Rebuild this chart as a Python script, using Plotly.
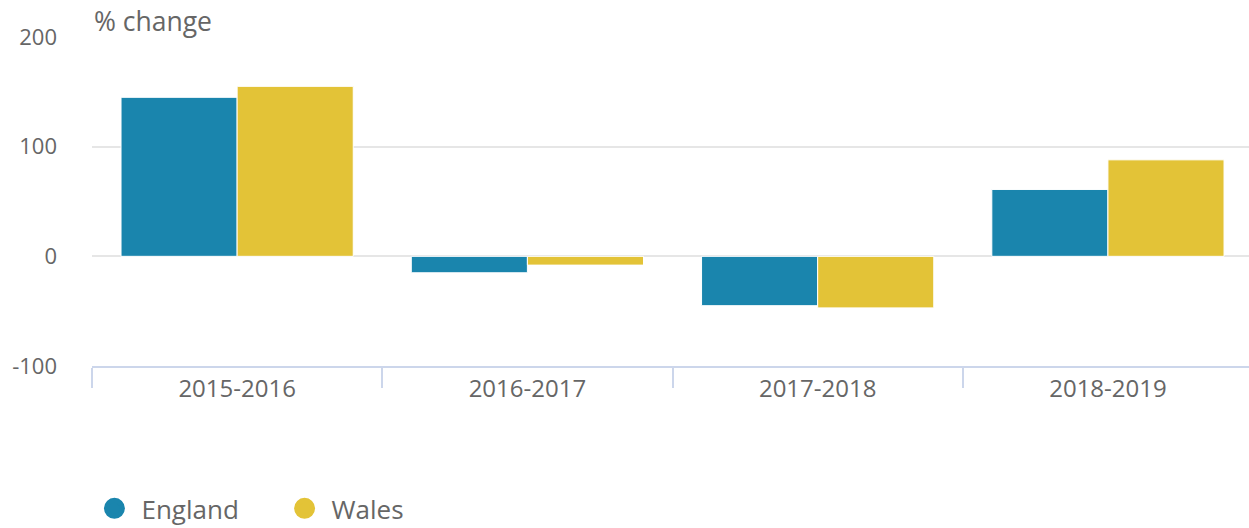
import plotly.graph_objects as go

categories = ["2015-2016", "2016-2017", "2017-2018", "2018-2019"]
england = [145, -15, -45, 61]
wales = [155, -8, -47, 88]
y_ticks = [-100, 0, 100, 200]
y_tick_labels = ["-100", "0", "100", "200"]

ENG_COL = "#1a85ad"
WAL_COL = "#e3c337"
FONT = "Open Sans"
TXT = "#666666"
NB = "\u00a0"

fig = go.Figure()
fig.add_trace(go.Bar(x=categories, y=england, name="England", marker=dict(color=ENG_COL, line=dict(color="white", width=1)), showlegend=False))
fig.add_trace(go.Bar(x=categories, y=wales, name="Wales", marker=dict(color=WAL_COL, line=dict(color="white", width=1)), showlegend=False))
# legend entries with circular symbols
fig.add_trace(go.Scatter(x=[None], y=[None], mode="markers", name="England" + NB * 5,
                         marker=dict(color=ENG_COL, size=16, symbol="circle", line=dict(color=ENG_COL, width=5))))
fig.add_trace(go.Scatter(x=[None], y=[None], mode="markers", name="Wales",
                         marker=dict(color=WAL_COL, size=16, symbol="circle", line=dict(color=WAL_COL, width=5))))

fig.update_layout(
    width=1249, height=528,
    margin=dict(l=92, r=0, t=37, b=162, autoexpand=False),
    plot_bgcolor="white", paper_bgcolor="white",
    barmode="group", bargap=0.2, bargroupgap=0,
    font=dict(family=FONT, size=22, color=TXT),
    legend=dict(orientation="h", x=0.07, xanchor="left", xref="container",
                y=0.037, yanchor="middle", yref="container",
                font=dict(size=26, color=TXT), itemsizing="trace", itemwidth=44),
    annotations=[dict(text="% change", xref="paper", yref="paper", x=0.0, y=1.0,
                      xanchor="left", yanchor="bottom", showarrow=False, xshift=0, yshift=-4,
                      font=dict(size=26.5, color=TXT))],
)
fig.update_xaxes(range=[-0.5, 3.486], showline=True, linecolor="#ccd6eb", linewidth=2, ticks="outside",
                 tickcolor="#ccd6eb", ticklen=20, tickwidth=2, tickson="boundaries", showgrid=False,
                 tickfont=dict(size=24, color=TXT))
fig.update_yaxes(range=[-100, 200], tickvals=y_ticks, ticktext=y_tick_labels, showgrid=True,
                 gridcolor="#e6e6e6", gridwidth=2,
                 zeroline=False, showline=False, ticklabelstandoff=34,
                 tickfont=dict(size=22, color=TXT))

fig.write_html("out.html")
